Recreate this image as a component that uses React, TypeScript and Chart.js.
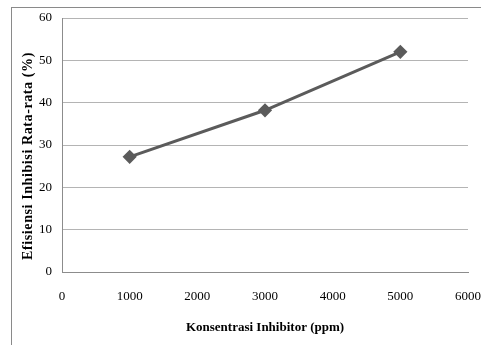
import React, { useEffect, useRef } from "react";
import { Chart, registerables } from "chart.js";

Chart.register(...registerables);

const xValues = [1000, 3000, 5000];
const yValues = [27.2, 38.2, 52];
const xTitle = "Konsentrasi Inhibitor (ppm)";
const yTitle = "Efisiensi Inhibisi Rata-rata (%)";

export default function App() {
  const ref = useRef<HTMLCanvasElement>(null);
  useEffect(() => {
    if (!ref.current) return;
    const yTitlePlugin = {
      id: "yTitle",
      afterDraw(chart: any) {
        const ctx = chart.ctx;
        const area = chart.chartArea;
        ctx.save();
        ctx.font = "bold 14px 'Liberation Serif'";
        (ctx as any).letterSpacing = "0.6px";
        ctx.fillStyle = "#000";
        ctx.textAlign = "center";
        ctx.textBaseline = "middle";
        ctx.translate(28, (area.top + area.bottom) / 2 + 11);
        ctx.rotate(-Math.PI / 2);
        ctx.fillText(yTitle, 0, 0);
        ctx.restore();
      },
    };
    const chart = new Chart(ref.current, {
      type: "scatter",
      data: {
        datasets: [
          {
            data: xValues.map((x, i) => ({ x, y: yValues[i] })),
            showLine: true,
            borderColor: "#5b5b5b",
            backgroundColor: "#5b5b5b",
            borderWidth: 3,
            pointStyle: "rectRot",
            pointRadius: 5,
            pointHoverRadius: 5,
          },
        ],
      },
      options: {
        animation: false,
        responsive: false,
        layout: { padding: { top: 18, right: 13, left: 0, bottom: 0 } },
        plugins: { legend: { display: false }, tooltip: { enabled: false } },
        scales: {
          x: {
            type: "linear",
            min: 0,
            max: 6000,
            ticks: {
              stepSize: 1000,
              color: "#000",
              padding: 17,
              font: { family: "'Liberation Serif'", size: 13 },
              callback: (v: any) => String(v),
            },
            grid: { display: false, drawTicks: false },
            border: { color: "#8c8c8c", width: 1 },
            title: {
              display: true,
              text: xTitle,
              color: "#000",
              font: { family: "'Liberation Serif'", size: 13, weight: "bold" },
              padding: { top: 4, bottom: 10 },
            },
            afterFit(scale: any) {
              scale.height = 73;
              scale.paddingLeft = 0;
              scale.paddingRight = 0;
            },
          },
          y: {
            min: 0,
            max: 60,
            ticks: {
              stepSize: 10,
              color: "#000",
              padding: 10,
              font: { family: "'Liberation Serif'", size: 13 },
              callback: (v: any) => String(v),
            },
            grid: { color: "#b4b4b4", drawTicks: false },
            border: { color: "#8c8c8c", width: 1 },
            afterFit(scale: any) {
              scale.width = 62;
              scale.paddingTop = 0;
              scale.paddingBottom = 0;
            },
          },
        },
      },
      plugins: [yTitlePlugin],
    });
    return () => chart.destroy();
  }, []);
  return (
    <div style={{ position: "fixed", left: 0, top: 0, width: 481, height: 345, background: "#fff" }}>
      <div
        style={{
          position: "absolute",
          left: 11,
          top: 7,
          width: 480,
          height: 350,
          border: "1px solid #8a8a8a",
          boxSizing: "border-box",
        }}
      />
      <canvas ref={ref} width={481} height={345} style={{ position: "absolute", left: 0, top: 0 }} />
    </div>
  );
}
